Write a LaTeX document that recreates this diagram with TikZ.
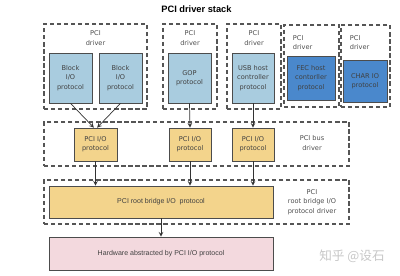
\documentclass[tikz,border=0pt]{standalone}
\usepackage{fontspec}
\setmainfont{DejaVu Sans}
\newfontfamily\arialfont{Liberation Sans}
\newfontfamily\cjkfont{Noto Sans CJK SC}
\definecolor{lightblue}{HTML}{A9CCDF}
\definecolor{darkblue}{HTML}{4A88CC}
\definecolor{pciyellow}{HTML}{F3D48C}
\definecolor{hwpink}{HTML}{F3D9DE}
\definecolor{dashgray}{HTML}{555555}

\begin{document}
\begin{tikzpicture}[x=0.25mm,y=-0.25mm,>=stealth,
  font=\fontsize{4.7}{6.6}\selectfont,
  drvbox/.style={draw=dashgray,line width=0.8pt,dash pattern=on 3pt off 2pt,inner sep=0pt},
  protobox/.style={draw=black!70,line width=0.5pt,align=center,inner sep=0pt,text=black!75},
  drvlabel/.style={align=center,text=black!70},
  link/.style={->,black!80,line width=0.5pt}]
  \useasboundingbox (0,0) rectangle (400,275);
  \node[font=\arialfont\bfseries\fontsize{6.6}{8}\selectfont] (title) at (196.5,9) {PCI driver stack};
  % PCI drivers
  \node[drvbox,minimum width=25.75mm,minimum height=21.25mm] (drv1) at (95.5,66.5) {};
  \node[drvlabel] (drv1lbl) at (95.5,38) {PCI\\driver};
  \node[protobox,fill=lightblue,minimum width=10.75mm,minimum height=12.5mm] (blk1) at (70.5,78) {Block\\I/O\\protocol};
  \node[protobox,fill=lightblue,minimum width=10.75mm,minimum height=12.5mm] (blk2) at (120.5,78) {Block\\I/O\\protocol};
  \node[drvbox,minimum width=13.5mm,minimum height=21.25mm] (drv2) at (190,66.5) {};
  \node[drvlabel] (drv2lbl) at (190,38) {PCI\\driver};
  \node[protobox,fill=lightblue,minimum width=10.75mm,minimum height=12.5mm] (gop) at (189.5,78) {GOP\\protocol};
  \node[drvbox,minimum width=13.5mm,minimum height=21.25mm] (drv3) at (254,66.5) {};
  \node[drvlabel] (drv3lbl) at (254,38) {PCI\\driver};
  \node[protobox,fill=lightblue,minimum width=10.5mm,minimum height=12.5mm] (usb) at (253,78) {USB host\\controller\\protocol};
  \node[drvbox,minimum width=13.75mm,minimum height=20.5mm] (drv4) at (311.5,66) {};
  \node[drvlabel,align=left,anchor=west] (drv4lbl) at (288,42.5) {PCI\\driver};
  \node[protobox,fill=darkblue,minimum width=12mm,minimum height=11mm] (fec) at (311,78) {FEC host\\contorller\\protocol};
  \node[drvbox,minimum width=12.25mm,minimum height=20.5mm] (drv5) at (365.5,66) {};
  \node[drvlabel,align=left,anchor=west] (drv5lbl) at (345,42.5) {PCI\\driver};
  \node[protobox,fill=darkblue,minimum width=11mm,minimum height=10.5mm] (char) at (365,81) {CHAR IO\\protocol};
  % PCI bus driver
  \node[drvbox,minimum width=76.25mm,minimum height=11mm] (busdrv) at (196.5,144) {};
  \node[protobox,fill=pciyellow,minimum width=10.75mm,minimum height=8.25mm] (pio1) at (95.5,144.5) {PCI I/O\\protocol};
  \node[protobox,fill=pciyellow,minimum width=10.5mm,minimum height=8.25mm] (pio2) at (190,144.5) {PCI I/O\\protocol};
  \node[protobox,fill=pciyellow,minimum width=10.5mm,minimum height=8.25mm] (pio3) at (253,144.5) {PCI I/O\\protocol};
  \node[drvlabel] (buslbl) at (312,143) {PCI bus\\driver};
  % root bridge driver
  \node[drvbox,minimum width=76.25mm,minimum height=11mm] (rbdrv) at (196.5,202) {};
  \node[protobox,fill=pciyellow,minimum width=56mm,minimum height=8mm,font=\arialfont\fontsize{5}{6}\selectfont] (rb) at (161,202) {PCI root bridge I/O\ \ protocol};
  \node[drvlabel] (rblbl) at (312,202) {PCI\\root bridge I/O\\protocol driver};
  \node[protobox,fill=hwpink,minimum width=56mm,minimum height=8.25mm,font=\arialfont\fontsize{5}{6}\selectfont] (hw) at (161,253.5) {Hardware abstracted by PCI I/O protocol};
  \node[text=black!22,font=\cjkfont\fontsize{9}{10}\selectfont] (mark) at (352,256) {知乎 @设石};
  % connectors
  \draw[link] (blk1.south) -- ([xshift=-0.4mm]pio1.north);
  \draw[link] (blk2.south) -- ([xshift=0.4mm]pio1.north);
  \draw[link] (gop.south) -- (pio2.north);
  \draw[link] (usb.south) -- (pio3.north);
  \draw[link] (pio1.south) -- (pio1.south |- rb.north);
  \draw[link] (pio2.south) -- (pio2.south |- rb.north);
  \draw[link] (pio3.south) -- (pio3.south |- rb.north);
  \draw[link] (rb.south) -- (hw.north);
\end{tikzpicture}
\end{document}
